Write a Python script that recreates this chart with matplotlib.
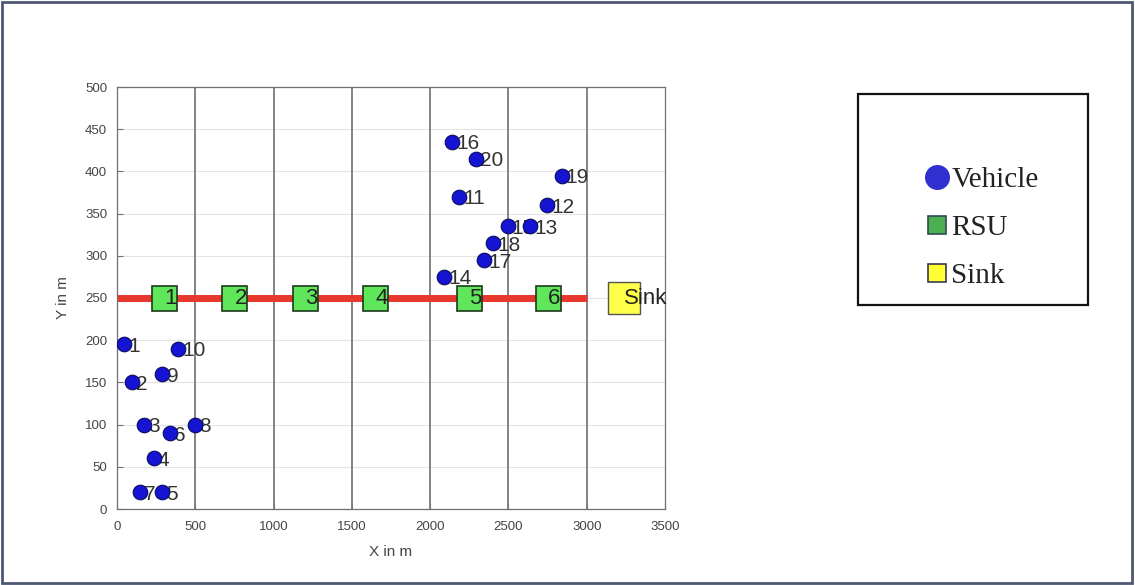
import matplotlib
matplotlib.use('Agg')
import matplotlib.pyplot as plt
from matplotlib.lines import Line2D
from matplotlib.patches import Rectangle

# ---- data ----
veh_ids = [str(i) for i in range(1, 21)]
veh_x = [45, 95, 175, 235, 290, 340, 145, 495, 290, 390,
         2185, 2745, 2640, 2090, 2495, 2140, 2345, 2400, 2840, 2290]
veh_y = [195, 150, 100, 60, 20, 90, 20, 100, 160, 190,
         370, 360, 335, 275, 335, 435, 295, 315, 395, 415]

rsu_ids = ['1', '2', '3', '4', '5', '6']
rsu_x = [300, 750, 1200, 1650, 2250, 2750]
rsu_y = [250, 250, 250, 250, 250, 250]

sink_label = ['Sink']
sink_x = [3240]
sink_y = [250]

road_x = [500, 1000, 1500, 2000, 2500, 3000]
link_x = [0, 3000]
link_y = [250, 250]

xticks = [0, 500, 1000, 1500, 2000, 2500, 3000, 3500]
yticks = [0, 50, 100, 150, 200, 250, 300, 350, 400, 450, 500]
legend_labels = ['Vehicle', 'RSU', 'Sink']

# ---- figure ----
fig = plt.figure(figsize=(11.35, 5.85), dpi=100)
fig.patch.set_facecolor('white')
ax = fig.add_axes([117/1135, 76/585, 548/1135, 422/585])

ax.set_xlim(0, 3500)
ax.set_ylim(0, 500)
ax.set_xticks(xticks)
ax.set_yticks(yticks)
ax.grid(axis='y', color='#e4e4e4', linewidth=0.8, zorder=0)
ax.set_axisbelow(True)

ax.vlines(road_x, 0, 500, colors='#7a7a7a', linewidth=1.3, zorder=1)
ax.plot(link_x, link_y, color='#e8372c', linewidth=5, solid_capstyle='butt', zorder=2)

# vehicles: labels underneath markers
for vx, vy, vid in zip(veh_x, veh_y, veh_ids):
    ax.annotate(vid, (vx, vy), xytext=(3, -1.5), textcoords='offset points',
                fontsize=15, family='Liberation Sans', color='#333333',
                ha='left', va='center', zorder=3)
ax.plot(veh_x, veh_y, linestyle='none', marker='o', markersize=10.5,
        markerfacecolor='#1414d2', markeredgecolor='#0a0a60', markeredgewidth=0.8, zorder=4)

# RSUs
ax.plot(rsu_x, rsu_y, linestyle='none', marker='s', markersize=18,
        markerfacecolor='#5fe65a', markeredgecolor='#1b3a1b', markeredgewidth=1.2, zorder=5)
for rx, ry, rid in zip(rsu_x, rsu_y, rsu_ids):
    ax.text(rx, ry, rid, fontsize=16, family='Liberation Sans', color='#222222',
            ha='left', va='center', zorder=6)

# Sink
ax.plot(sink_x, sink_y, linestyle='none', marker='s', markersize=23,
        markerfacecolor='#ffff4a', markeredgecolor='#555555', markeredgewidth=1.0, zorder=5)
for sx, sy, sl in zip(sink_x, sink_y, sink_label):
    ax.text(sx, sy, sl, fontsize=16, family='Liberation Sans', color='#222222',
            ha='left', va='center', zorder=6)

for s in ax.spines.values():
    s.set_color('#707070')
    s.set_linewidth(0.9)
ax.tick_params(direction='in', length=4, color='#707070', labelcolor='#444444',
               labelsize=9.5)
ax.tick_params(axis='x', pad=9)
ax.tick_params(axis='y', pad=7)
for lab in ax.get_xticklabels() + ax.get_yticklabels():
    lab.set_family('Liberation Sans')
ax.set_xlabel('X in m', fontsize=11, family='Liberation Sans', color='#444444', labelpad=8)
ax.set_ylabel('Y in m', fontsize=11, family='Liberation Sans', color='#444444', labelpad=11)

# legend box
fig.patches.append(Rectangle((858/1135, (585-305)/585), 230/1135, 211/585,
                             transform=fig.transFigure, fill=False,
                             edgecolor='#111111', linewidth=1.6))
handles = [
    Line2D([], [], linestyle='none', marker='o', markersize=17,
           markerfacecolor='#3030d0', markeredgecolor='#3030d0'),
    Line2D([], [], linestyle='none', marker='s', markersize=13,
           markerfacecolor='#4caf50', markeredgecolor='#2c4a55', markeredgewidth=1.2),
    Line2D([], [], linestyle='none', marker='s', markersize=13,
           markerfacecolor='#ffff33', markeredgecolor='#3a3a55', markeredgewidth=1.2),
]
fig.legend(handles, legend_labels, loc='upper left',
           bbox_to_anchor=(909/1135, (585-152)/585), frameon=False,
           prop={'family': 'Liberation Serif', 'size': 21},
           handlelength=0.9, handletextpad=0.05, labelspacing=0.74, borderpad=0,
           labelcolor='#222222')

# outer border
fig.patches.append(Rectangle((0.002, 0.003), 0.995, 0.993, transform=fig.transFigure,
                             fill=False, edgecolor='#4d5873', linewidth=2))

fig.savefig('out.png', dpi=100)
